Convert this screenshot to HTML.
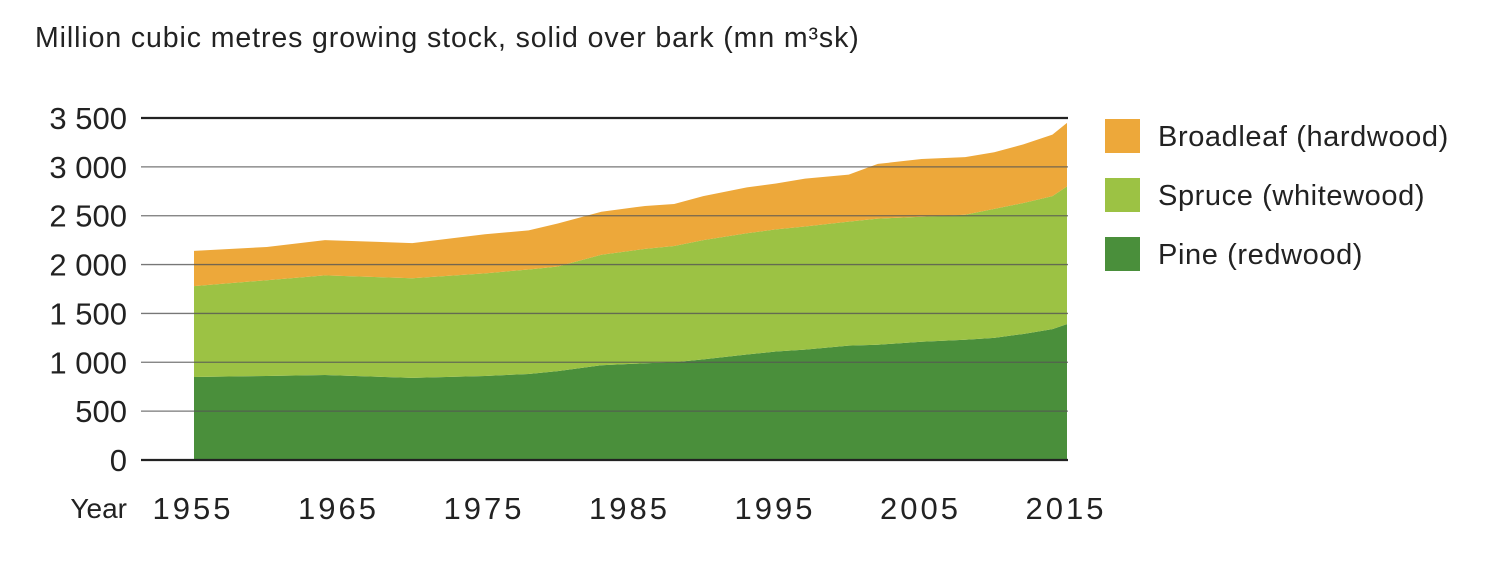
<!DOCTYPE html>
<html><head><meta charset="utf-8"><style>
body{margin:0;background:#fff;width:1510px;height:566px;overflow:hidden}
svg text{font-family:"Liberation Sans",sans-serif;fill:#222}
</style></head><body>
<svg id="chart" width="1510" height="566" xmlns="http://www.w3.org/2000/svg">
<text x="35" y="47" font-size="28.5" letter-spacing="0.9">Million cubic metres growing stock, solid over bark (mn m³sk)</text>
<g id="areas"></g><g id="grid"></g><g id="ylabels"></g><g id="xlabels"></g>
<text x="127" y="518" font-size="28" text-anchor="end">Year</text>
<g>
<rect x="1105" y="119" width="35" height="34" fill="#eda83a"/>
<text x="1158" y="146" font-size="29" letter-spacing="0.6">Broadleaf (hardwood)</text>
<rect x="1105" y="178" width="35" height="34" fill="#9cc244"/>
<text x="1158" y="205" font-size="29" letter-spacing="0.6">Spruce (whitewood)</text>
<rect x="1105" y="237" width="35" height="34" fill="#4a8f3b"/>
<text x="1158" y="264" font-size="29" letter-spacing="0.6">Pine (redwood)</text>
</g>
</svg>
<script>
const years=[1955,1960,1964,1970,1975,1978,1980,1983,1986,1988,1990,1993,1995,1997,2000,2002,2005,2008,2010,2012,2014,2015];
const pine=[850,860,870,840,860,880,910,970,990,1000,1030,1080,1110,1130,1170,1180,1210,1230,1250,1290,1340,1390];
const spruce=[930,980,1020,1020,1050,1070,1070,1130,1170,1190,1220,1240,1250,1260,1270,1290,1280,1280,1320,1340,1360,1410];
const broadleaf=[360,340,360,360,400,400,440,440,440,430,450,470,470,490,480,560,590,590,580,600,630,650];
const yTicks=[0,500,1000,1500,2000,2500,3000,3500];
const yTickLabels=["0","500","1 000","1 500","2 000","2 500","3 000","3 500"];
const xTicks=[1955,1965,1975,1985,1995,2005,2015];
const NS="http://www.w3.org/2000/svg";
const x=v=>194+(v-1955)*(1067-194)/60;
const y=v=>460-v*(460-118)/3500;
function mk(t,a,p){const e=document.createElementNS(NS,t);for(const k in a)e.setAttribute(k,a[k]);document.getElementById(p).appendChild(e);return e;}
const series=[["pine",pine,"#4a8f3b"],["spruce",spruce,"#9cc244"],["broadleaf",broadleaf,"#eda83a"]];
let base=years.map(()=>0);
series.forEach(([n,vals,c])=>{
  const top=base.map((b,i)=>b+vals[i]);
  let d="M"+years.map((yr,i)=>x(yr)+","+y(top[i])).join("L");
  for(let i=years.length-1;i>=0;i--)d+="L"+x(years[i])+","+y(base[i]);
  d+="Z";
  const p=mk('path',{d:d,fill:c},'areas');
  
  
  base=top;
});
yTicks.forEach((v,i)=>{
  const l=mk('line',{x1:141,x2:1068,y1:y(v),y2:y(v),stroke:(v===0||v===3500)?'#222':'#555','stroke-width':(v===0||v===3500)?2.2:1.3,'stroke-opacity':(v===0||v===3500)?1:0.8},'grid');
  
  
  const t=mk('text',{x:127,y:y(v)+11,'font-size':31,'text-anchor':'end'},'ylabels');
  t.textContent=yTickLabels[i];
  
  
});
xTicks.forEach(v=>{
  const t=mk('text',{x:x(v)-1,y:519,'font-size':31,'text-anchor':'middle','letter-spacing':'3'},'xlabels');
  t.textContent=v;
  
  
});
</script>
</body></html>
